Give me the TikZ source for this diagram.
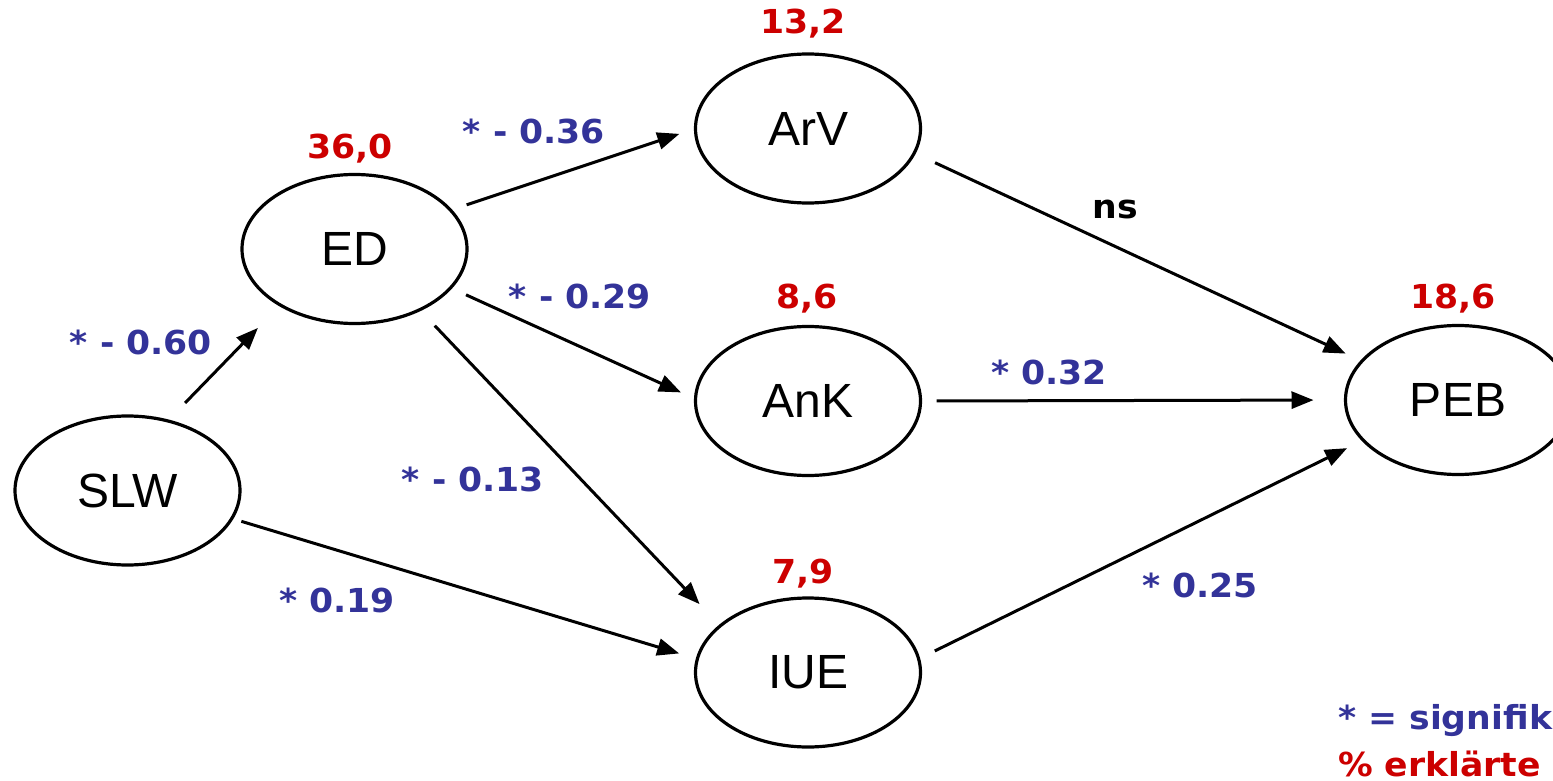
\documentclass[tikz,border=0pt]{standalone}
\usepackage{fontspec}
\setmainfont{Liberation Sans}
\newfontfamily\labfont[FakeStretch=1.05]{DejaVu Sans}
\usetikzlibrary{arrows.meta,shapes.geometric}
\definecolor{coefblue}{RGB}{51,51,153}
\definecolor{pctred}{RGB}{204,0,0}
\tikzset{
 var/.style={ellipse, draw, line width=3.2pt, minimum width=225pt, minimum height=149pt, inner sep=0pt, outer sep=0pt, font=\fontsize{48}{56}\selectfont},
 pathedge/.style={line width=3pt, -{Triangle[length=22pt,width=17pt]}},
 coef/.style={anchor=base, text=coefblue, font=\labfont\bfseries\fontsize{33}{40}\selectfont, inner sep=0pt},
 pct/.style={coef, text=pctred},
 nslab/.style={coef, text=black},
}
\begin{document}
\begin{tikzpicture}[x=1pt,y=-1pt]
\useasboundingbox (0,0) rectangle (1553,781);
\node[var] (SLW) at (127.5,490.5) {SLW};
\node[var] (ED) at (354.5,249) {ED};
\node[var] (ArV) at (808,128.5) {ArV};
\node[var] (AnK) at (808,401) {AnK};
\node[var] (IUE) at (808,672.5) {IUE};
\node[var] (PEB) at (1458,400) {PEB};

\draw[pathedge, shorten <=25pt, shorten >=32pt] (SLW.60) -- (ED.217);
\draw[pathedge, shorten <=17pt, shorten >=17pt] (ED.22) -- (ArV.180);
\draw[pathedge, shorten <=17pt, shorten >=16pt] (ED.-22) -- (AnK.179);
\draw[pathedge, shorten <=22pt, shorten >=30pt] (ED.-43) -- (IUE.152);
\draw[pathedge, shorten <=10pt, shorten >=19pt] (SLW.-15) -- (IUE.173);
\draw[pathedge, shorten <=23pt, shorten >=18pt] (ArV.-13) -- (PEB.158);
\draw[pathedge, shorten <=16pt, shorten >=32pt] (AnK.0) -- (PEB.180);
\draw[pathedge, shorten <=18pt, shorten >=18pt] (IUE.7) -- (PEB.203);

\node[coef] (c1) at (141,354) {* - 0.60};
\node[coef] (c2) at (534,143) {* - 0.36};
\node[coef] (c3) at (580,308) {* - 0.29};
\node[coef] (c4) at (473,491) {* - 0.13};
\node[coef] (c5) at (337,612) {* 0.19};
\node[nslab] (c6) at (1115,218) {ns};
\node[coef] (c7) at (1049,384) {* 0.32};
\node[coef] (c8) at (1200,597) {* 0.25};

\node[pct] (p1) at (803,34) {13,2};
\node[pct] (p2) at (350,159) {36,0};
\node[pct] (p3) at (807,308) {8,6};
\node[pct] (p4) at (1453,308) {18,6};
\node[pct] (p5) at (803,583) {7,9};

\node[coef, anchor=base west] (leg1) at (1338,729) {* = signifik};
\node[pct, anchor=base west] (leg2) at (1338,776) {\% erklärte};
\end{tikzpicture}
\end{document}
